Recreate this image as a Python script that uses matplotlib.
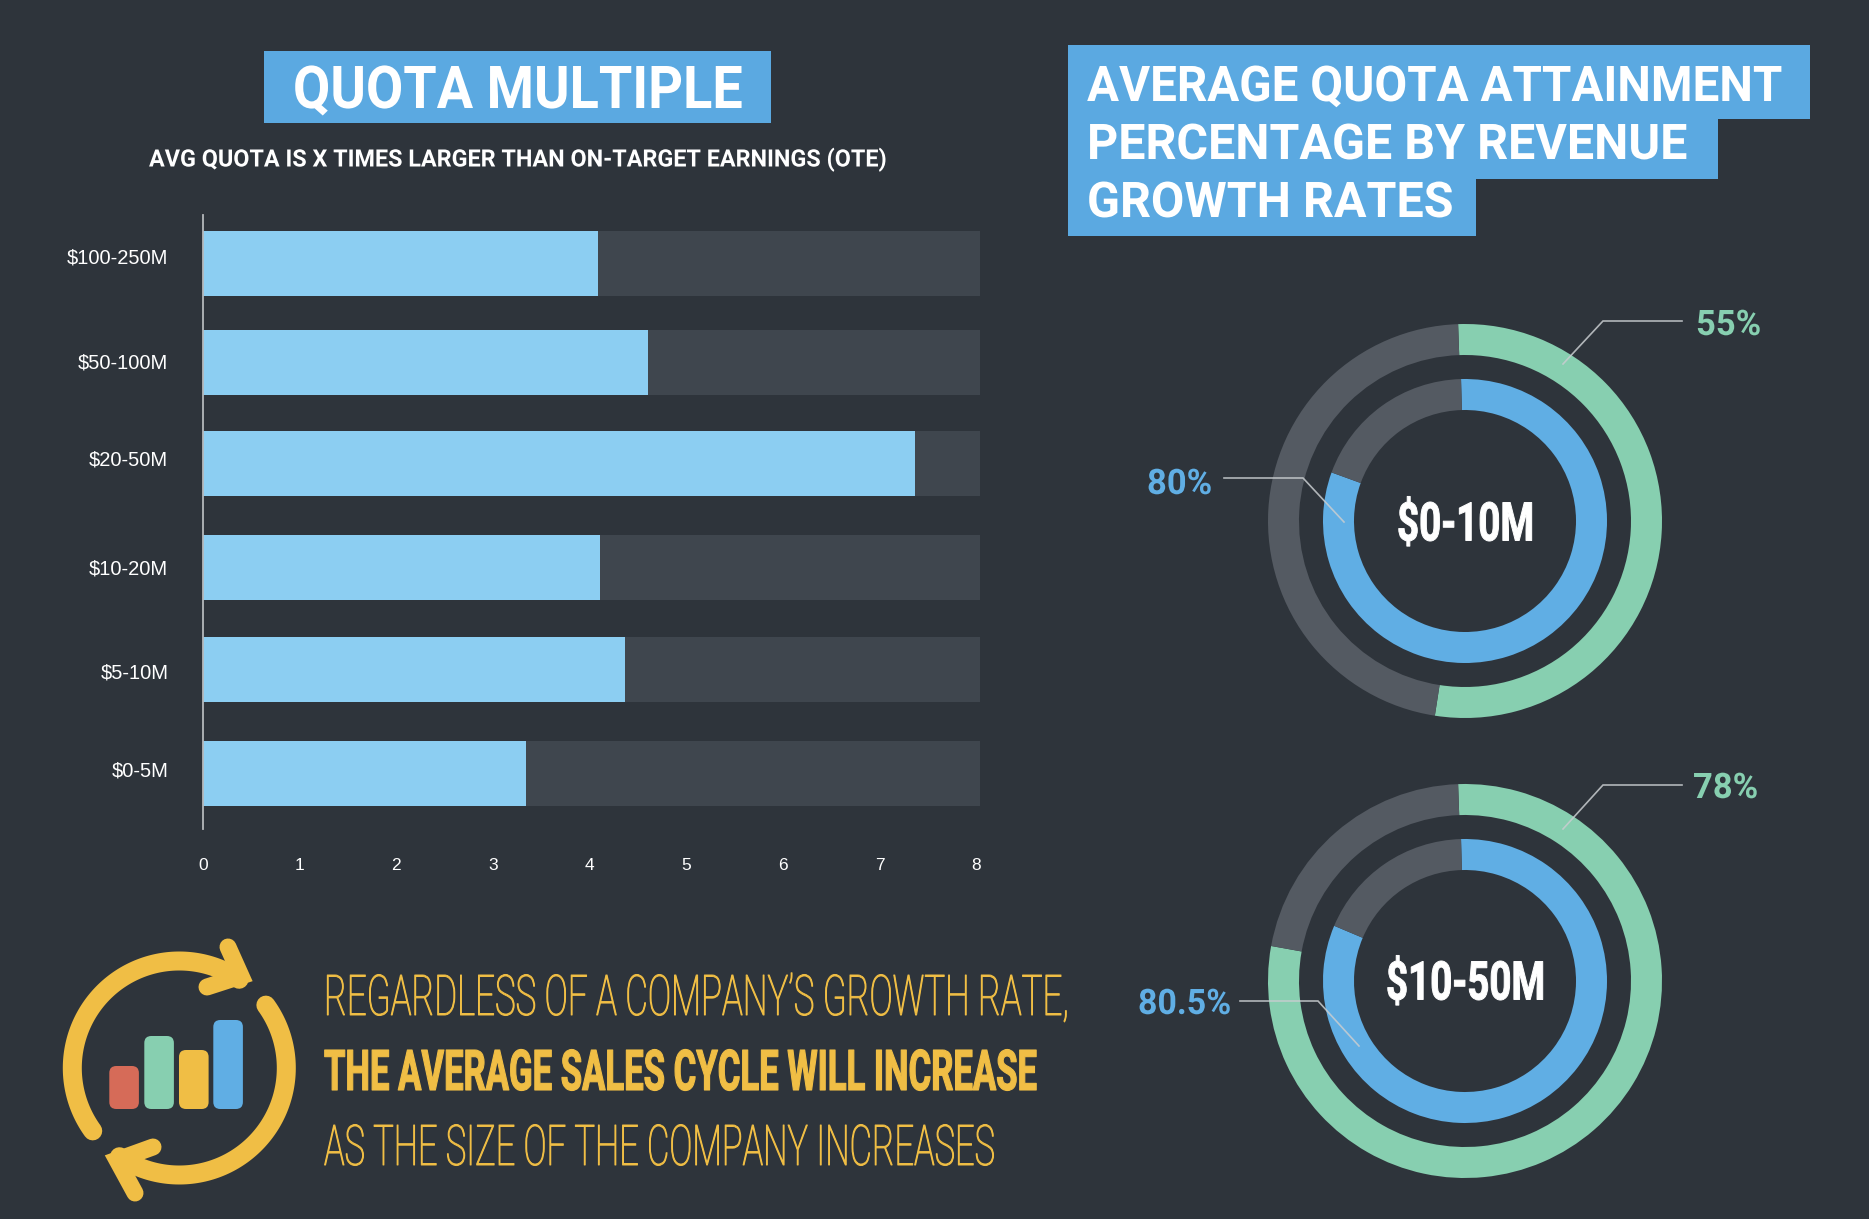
import numpy as np
import matplotlib
matplotlib.use("Agg")
import matplotlib.pyplot as plt
from matplotlib.patches import Rectangle, FancyBboxPatch
from matplotlib.patheffects import AbstractPathEffect
from matplotlib.transforms import Affine2D

# ---- data ----
revenue_bands = ["$100-250M", "$50-100M", "$20-50M", "$10-20M", "$5-10M", "$0-5M"]
quota_multiple = [4.09, 4.6, 7.37, 4.11, 4.37, 3.34]
x_ticks = [0, 1, 2, 3, 4, 5, 6, 7, 8]
ring_names = ["$0-10M", "$10-50M"]
outer_labels = ["55%", "78%"]
inner_labels = ["80%", "80.5%"]
outer_drawn = [53, 78.4]
inner_drawn = [81, 81.8]
icon_bar_heights = [43, 73, 59, 89]

# ---- style ----
BG = "#2E343B"; TRACK = "#3F464E"; FILL = "#8CCEF2"; BOX = "#5BA9E1"
RING = "#545A62"; GREEN = "#87CFB0"; BLUE = "#60AEE4"; YELLOW = "#F0BE45"; RED = "#D66B58"
W, H = 1869, 1219
fig = plt.figure(figsize=(W/100, H/100), dpi=100, facecolor=BG)
def rect(l, t, r, b):
    return [l/W, 1-b/H, (r-l)/W, (b-t)/H]

ov = fig.add_axes([0, 0, 1, 1], zorder=5)
ov.set_xlim(0, W); ov.set_ylim(H, 0); ov.axis("off"); ov.patch.set_alpha(0)

class Stretch(AbstractPathEffect):
    """Draw the glyphs taller than the font size, as a condensed face would be."""
    def __init__(self, sy, color, stroke=0.0):
        super().__init__()
        self.sy, self.color, self.stroke = sy, color, stroke
    def draw_path(self, renderer, gc, tpath, affine, rgbFace=None):
        gc0 = renderer.new_gc()
        gc0.copy_properties(gc)
        gc0.set_linewidth(self.stroke)
        if self.stroke:
            gc0.set_foreground(self.color)
        renderer.draw_path(gc0, tpath, Affine2D().scale(1, self.sy) + affine, rgbFace)
        gc0.restore()

renderer = fig.canvas.get_renderer()
def fit(s, left, right, base, cap, family, weight, color, stroke=0.0, capratio=0.711):
    size = cap/capratio*0.72
    t = ov.text(left, base, s, family=family, weight=weight, color=color, fontsize=size,
                ha="left", va="baseline", parse_math=False)
    sx = (right-left)/t.get_window_extent(renderer).width
    t.set_fontsize(size*sx)
    t.set_path_effects([Stretch(1/sx, color, stroke)])
    return t

# ---- title boxes ----
ov.add_patch(Rectangle((264, 51), 507, 72, fc=BOX, ec="none"))
fit("QUOTA MULTIPLE", 293, 743, 108, 42, "Roboto", "bold", "white")
fit("AVG QUOTA IS X TIMES LARGER THAN ON-TARGET EARNINGS (OTE)", 149, 887, 166.5, 17, "Roboto", "bold", "white")
ov.add_patch(Rectangle((1068, 45), 742, 74, fc=BOX, ec="none"))
ov.add_patch(Rectangle((1068, 119), 650, 60, fc=BOX, ec="none"))
ov.add_patch(Rectangle((1068, 178), 408, 58, fc=BOX, ec="none"))
fit("AVERAGE QUOTA ATTAINMENT", 1087, 1783, 101, 35, "Roboto", "bold", "white")
fit("PERCENTAGE BY REVENUE", 1087, 1688, 159, 35, "Roboto", "bold", "white")
fit("GROWTH RATES", 1087, 1454, 217, 35, "Roboto", "bold", "white")

# ---- bar chart ----
row_centres = [263, 362.5, 463, 567.5, 669, 773.5]
ax = fig.add_axes(rect(203, 215, 980, 829), facecolor="none")
ax.set_xlim(0, 8.04); ax.set_ylim(829, 215)
ax.barh(row_centres, [8.04]*6, height=65, color=TRACK)
ax.barh(row_centres, quota_multiple, height=65, color=FILL)
for s in ["top", "right", "bottom"]:
    ax.spines[s].set_visible(False)
ax.spines["left"].set_color("#B5B8BB"); ax.spines["left"].set_linewidth(1.3)
label_y = [256, 361, 458, 567, 671, 769]
ax.set_yticks(label_y, revenue_bands, fontsize=14.5, family="Liberation Sans", color="white")
ax.set_xticks(x_ticks, [str(v) for v in x_ticks], fontsize=12.5, family="Liberation Sans", color="white")
ax.tick_params(length=0)
ax.tick_params(axis="y", pad=25)
ax.tick_params(axis="x", pad=21)

# ---- rings ----
centres = [(1465, 521), (1465, 981)]
for (cx, cy), o, i in zip(centres, outer_drawn, inner_drawn):
    a = fig.add_axes(rect(cx-205, cy-205, cx+205, cy+205), facecolor="none")
    a.pie([o, 100-o], colors=[GREEN, RING], startangle=92, counterclock=False,
          radius=197, wedgeprops=dict(width=31, linewidth=0))
    a.pie([i, 100-i], colors=[BLUE, RING], startangle=91.6, counterclock=False,
          radius=142, wedgeprops=dict(width=31, linewidth=0))
    a.set_xlim(-205, 205); a.set_ylim(-205, 205); a.axis("off")

COND = "Roboto"
fit(ring_names[0], 1397, 1534, 540.5, 38, COND, "bold", "white", stroke=0.7)
fit(ring_names[1], 1386, 1545, 999.5, 38, COND, "bold", "white", stroke=0.7)
fit(outer_labels[0], 1696, 1761, 335, 25, COND, "bold", GREEN)
fit(outer_labels[1], 1693, 1758, 798, 25, COND, "bold", GREEN)
fit(inner_labels[0], 1147, 1212, 494, 25, COND, "bold", BLUE)
fit(inner_labels[1], 1138, 1231, 1014, 25, COND, "bold", BLUE)

leaders = [
    ([1563, 1603, 1682], [364, 321, 321]),
    ([1224, 1303, 1344], [478, 478, 522]),
    ([1563, 1603, 1682], [829, 785, 785]),
    ([1240, 1318, 1359], [1001, 1001, 1046]),
]
for xs, ys in leaders:
    ov.plot(xs, ys, color="#C9CDD0", lw=1.2, alpha=.85, solid_joinstyle="miter")

# ---- icon ----
cx, cy, r = 179.3, 1068, 107
LW = 19*0.72
for a0, a1 in [(216, 56), (36, -124)]:
    th = np.radians(np.linspace(a0, a1, 120))
    ov.plot(cx + r*np.cos(th), cy - r*np.sin(th), color=YELLOW, lw=LW, solid_capstyle="round")
for xs, ys in [([228, 241, 207], [947, 976, 987]), ([135, 117, 153], [1193, 1160, 1147])]:
    ov.plot(xs, ys, color=YELLOW, lw=17*0.72, solid_capstyle="round", solid_joinstyle="miter")
bar_cols = [RED, GREEN, YELLOW, BLUE]
bar_left = [109.3, 144.3, 179, 213.3]
for l, h, c in zip(bar_left, icon_bar_heights, bar_cols):
    ov.add_patch(FancyBboxPatch((l+7, 1109-h+7), 29.6-14, h-14, boxstyle="round,pad=7,rounding_size=7",
                                fc=c, ec="none"))

# ---- callout ----
fit("REGARDLESS OF A COMPANY\u2019S GROWTH RATE,", 324, 1069, 1015, 40, "Roboto", "light", YELLOW, stroke=0.7)
fit("THE AVERAGE SALES CYCLE WILL INCREASE", 324, 1037, 1090, 40, "Roboto", "bold", YELLOW, stroke=0.8)
fit("AS THE SIZE OF THE COMPANY INCREASES", 324, 995, 1165, 40, "Roboto", "light", YELLOW, stroke=0.7)

fig.savefig("out.png", dpi=100, facecolor=BG)
